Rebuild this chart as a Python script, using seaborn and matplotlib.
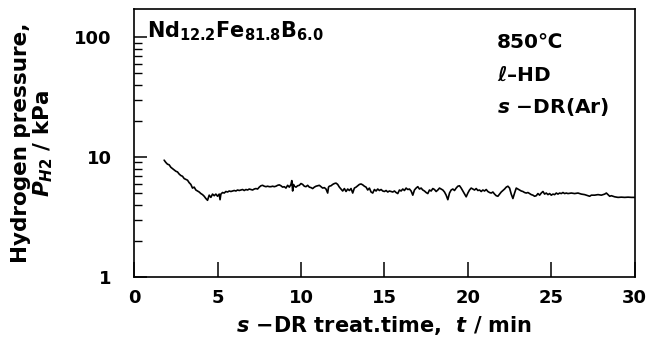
import numpy as np
import pandas as pd
import matplotlib
matplotlib.use('Agg')
import matplotlib.pyplot as plt
import matplotlib.ticker as mticker
import seaborn as sns

# s-DR treatment time (min) and hydrogen pressure (kPa)
time_min = [1.8, 1.9, 2.0, 2.1, 2.2, 2.3, 2.4, 2.5, 2.6, 2.7, 2.8, 2.9, 3.0, 3.1, 3.2, 3.3, 3.4, 3.5, 3.6, 3.7,
            3.8, 3.9, 4.0, 4.1, 4.2, 4.3, 4.4, 4.5, 4.6, 4.7, 4.8, 4.9, 5.0, 5.1, 5.15, 5.2, 5.3, 5.4, 5.5,
            5.6, 5.7, 5.8, 5.9, 6.0, 6.1, 6.2, 6.3, 6.4, 6.5, 6.6, 6.7, 6.8, 6.9, 7.0, 7.1, 7.2, 7.3, 7.4,
            7.5, 7.6, 7.7, 7.8, 7.9, 8.0, 8.1, 8.2, 8.3, 8.4, 8.5, 8.6, 8.7, 8.8, 8.9, 9.0, 9.1, 9.2, 9.3,
            9.4, 9.45, 9.5, 9.55, 9.6, 9.7, 9.8, 9.9, 10.0, 10.1, 10.2, 10.3, 10.4, 10.5, 10.6, 10.7, 10.8,
            10.9, 11.0, 11.1, 11.2, 11.3, 11.4, 11.5, 11.6, 11.65, 11.7, 11.8, 11.9, 12.0, 12.1, 12.2, 12.3,
            12.4, 12.5, 12.6, 12.7, 12.8, 12.9, 13.0, 13.1, 13.2, 13.3, 13.4, 13.5, 13.6, 13.7, 13.8, 13.9,
            14.0, 14.1, 14.2, 14.3, 14.4, 14.5, 14.6, 14.7, 14.8, 14.9, 15.0, 15.1, 15.2, 15.3, 15.4, 15.5,
            15.6, 15.7, 15.8, 15.9, 16.0, 16.1, 16.2, 16.3, 16.4, 16.5, 16.6, 16.7, 16.8, 16.9, 17.0, 17.1,
            17.2, 17.3, 17.4, 17.5, 17.6, 17.7, 17.8, 17.9, 18.0, 18.1, 18.2, 18.3, 18.4, 18.5, 18.6, 18.7,
            18.8, 18.9, 19.0, 19.1, 19.2, 19.3, 19.4, 19.5, 19.6, 19.7, 19.8, 19.9, 20.0, 20.1, 20.2, 20.3,
            20.4, 20.5, 20.6, 20.7, 20.8, 20.9, 21.0, 21.1, 21.2, 21.3, 21.4, 21.5, 21.6, 21.7, 21.8, 21.9,
            22.0, 22.1, 22.2, 22.3, 22.4, 22.5, 22.6, 22.7, 22.8, 22.9, 23.0, 23.1, 23.2, 23.3, 23.4, 23.5,
            23.6, 23.7, 23.8, 23.9, 24.0, 24.1, 24.2, 24.3, 24.4, 24.5, 24.6, 24.7, 24.8, 24.9, 25.0, 25.1,
            25.2, 25.3, 25.4, 25.5, 25.6, 25.7, 25.8, 25.9, 26.0, 26.2, 26.4, 26.6, 26.8, 27.0, 27.2, 27.3,
            27.4, 27.6, 27.8, 28.0, 28.2, 28.3, 28.4, 28.5, 28.6, 28.8, 29.0, 29.2, 29.4, 29.6, 29.8, 30.0]
p_h2_kpa = [9.4, 9.0, 8.7, 8.6, 8.2, 8.0, 7.8, 7.6, 7.5, 7.2, 7.0, 6.9, 6.6, 6.5, 6.4, 6.1, 5.9, 5.5, 5.6, 5.3,
            5.2, 5.1, 4.95, 4.85, 4.7, 4.5, 4.35, 4.8, 4.6, 4.9, 4.75, 4.9, 4.7, 4.9, 4.4, 4.9, 5.05, 5.0, 5.15,
            5.1, 5.2, 5.15, 5.2, 5.25, 5.2, 5.3, 5.25, 5.3, 5.35, 5.25, 5.35, 5.3, 5.4, 5.35, 5.3, 5.4, 5.45, 5.4,
            5.6, 5.75, 5.8, 5.7, 5.65, 5.7, 5.65, 5.65, 5.7, 5.65, 5.7, 5.8, 5.85, 5.75, 5.6, 5.65, 5.5, 5.8, 5.6,
            5.9, 6.35, 5.2, 5.9, 5.7, 5.6, 5.75, 5.8, 6.0, 5.9, 5.7, 5.65, 5.8, 5.6, 5.55, 5.45, 5.6,
            5.7, 5.75, 5.8, 5.65, 5.5, 5.55, 5.4, 5.0, 5.6, 5.7, 5.75, 5.9, 6.0, 6.05, 5.9, 5.6,
            5.4, 5.2, 5.45, 5.15, 5.4, 5.25, 5.45, 5.0, 5.5, 5.6, 5.75, 5.9, 5.95, 5.85, 5.7, 5.6,
            5.3, 5.5, 5.1, 5.0, 5.35, 5.2, 5.4, 5.25, 5.35, 5.2, 5.15, 5.25, 5.1, 5.2, 5.15, 5.1,
            5.2, 5.05, 4.95, 5.3, 5.2, 5.4, 5.25, 5.5, 5.35, 5.4, 5.2, 4.8, 5.3, 5.5, 5.65, 5.4,
            5.5, 5.3, 5.2, 5.05, 4.95, 5.3, 5.2, 5.45, 5.35, 5.15, 5.3, 5.5, 5.4, 5.3, 5.1, 4.8,
            4.4, 5.0, 5.3, 5.4, 5.25, 5.5, 5.7, 5.75, 5.5, 5.2, 4.9, 4.65, 5.0, 5.3, 5.5, 5.4,
            5.3, 5.45, 5.25, 5.3, 5.15, 5.3, 5.2, 5.35, 5.15, 5.05, 5.0, 5.1, 4.9, 4.75, 4.7, 4.9,
            5.1, 5.25, 5.4, 5.6, 5.7, 5.5, 4.9, 4.5, 5.0, 5.5, 5.4, 5.3, 5.2, 5.15, 5.05, 5.0,
            5.05, 4.95, 4.85, 4.8, 4.7, 4.75, 4.95, 4.8, 5.0, 5.15, 4.9, 5.0, 4.85, 4.95, 4.8, 4.9,
            4.85, 5.0, 4.9, 5.0, 4.95, 5.05, 4.95, 5.0, 4.95, 5.0, 4.95, 5.0, 4.9, 4.85, 4.75, 4.7,
            4.8, 4.8, 4.85, 4.8, 4.9, 5.0, 4.85, 4.7, 4.75, 4.65, 4.6, 4.62, 4.6, 4.62, 4.6, 4.6]

x_ticks = [0, 5, 10, 15, 20, 25, 30]
y_ticks = [1, 10, 100]
y_tick_labels = ['1', '10', '100']

df = pd.DataFrame({'t': time_min, 'p': p_h2_kpa})

sns.set_theme(style='ticks')
plt.rcParams['font.family'] = ['DejaVu Sans']
plt.rcParams['font.weight'] = 'bold'
plt.rcParams['text.color'] = 'black'
plt.rcParams['axes.labelcolor'] = 'black'
plt.rcParams['mathtext.fontset'] = 'custom'
plt.rcParams['mathtext.rm'] = 'DejaVu Sans:bold'
plt.rcParams['mathtext.it'] = 'DejaVu Sans:bold:italic'
plt.rcParams['mathtext.bf'] = 'DejaVu Sans:bold'

tick_fs = 13
lab_fs = 15

fig = plt.figure(figsize=(6.51, 3.5), dpi=100)
ax = fig.add_axes([0.206, 0.209, 0.769, 0.765])

sns.lineplot(data=df, x='t', y='p', ax=ax, color='black', lw=1.2)

ax.set_yscale('log')
ax.set_xlim(0, 30)
ax.set_ylim(1, 171)
ax.set_xticks(x_ticks)
ax.set_yticks(y_ticks)
ax.set_yticklabels(y_tick_labels)
ax.yaxis.set_minor_locator(mticker.LogLocator(base=10, subs=np.arange(2, 10)))
ax.yaxis.set_minor_formatter(mticker.NullFormatter())

ax.tick_params(axis='x', direction='in', length=11, width=1.1, pad=9, labelsize=tick_fs,
               colors='black')
ax.tick_params(axis='y', which='major', direction='in', length=9, width=1.1, pad=16,
               labelsize=tick_fs, colors='black')
ax.tick_params(axis='y', which='minor', direction='in', length=5.5, width=1.0, colors='black')
for s in ax.spines.values():
    s.set_linewidth(1.2)
    s.set_color('black')

ax.set_xlabel('$s$ \u2212DR treat.time,  $t$ / min', fontsize=lab_fs, fontweight='bold', labelpad=5)
ax.set_ylabel('Hydrogen pressure,\n$P_{H2}$ / kPa', fontsize=lab_fs + 0.5, fontweight='bold',
              multialignment='center', linespacing=1.0)
ax.yaxis.set_label_coords(-0.158, 0.5)

ax.text(0.026, 0.918, 'Nd$_{12.2}$Fe$_{81.8}$B$_{6.0}$', transform=ax.transAxes, fontsize=lab_fs,
        fontweight='bold', va='center', ha='left')
ax.text(0.725, 0.877, '850\u2103', transform=ax.transAxes, fontsize=14.5, fontweight='bold', va='center')
ax.text(0.725, 0.754, '$\\ell$\u2013HD', transform=ax.transAxes, fontsize=14.5, fontweight='bold', va='center')
ax.text(0.725, 0.634, '$s$ \u2212DR(Ar)', transform=ax.transAxes, fontsize=14.5, fontweight='bold', va='center')

fig.savefig('out.png', dpi=100)
